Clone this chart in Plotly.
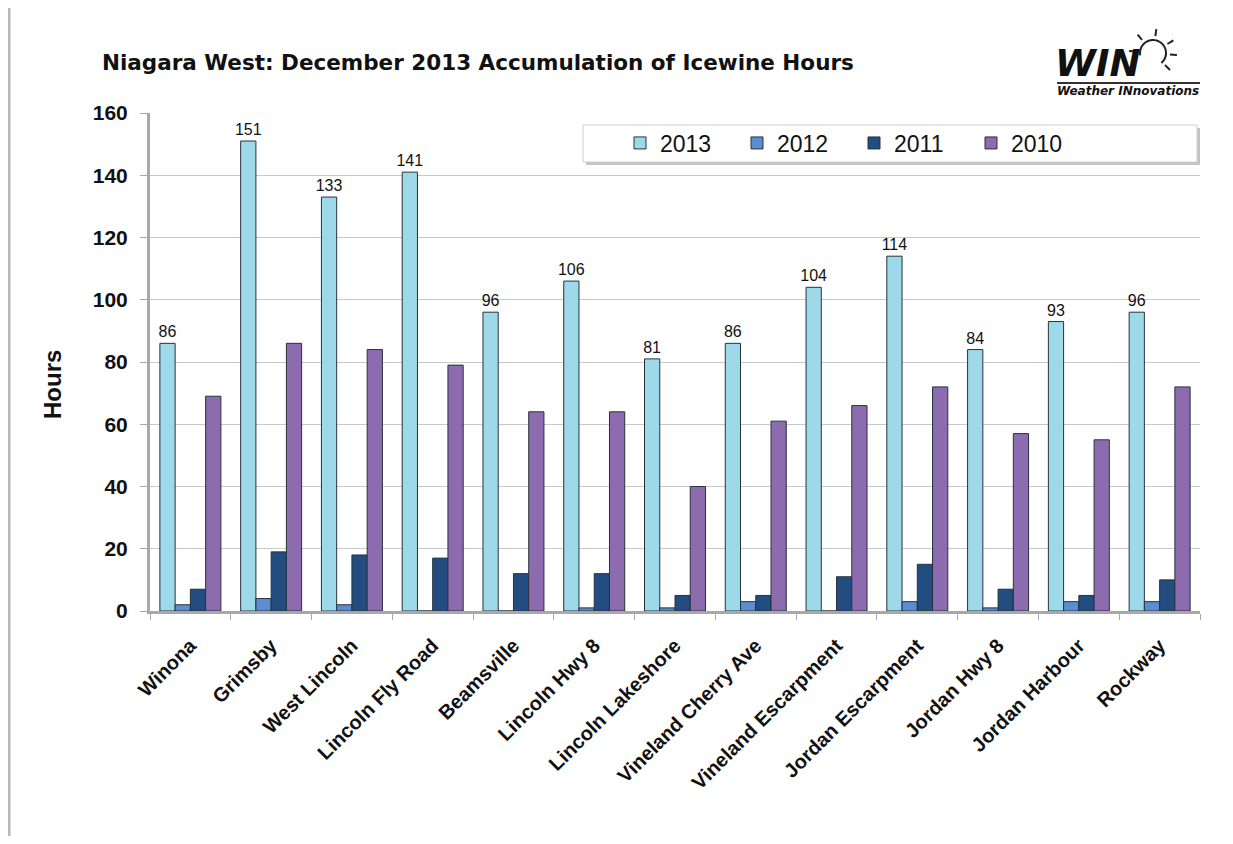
import math
import plotly.graph_objects as go

stations = ["Winona", "Grimsby", "West Lincoln", "Lincoln Fly Road", "Beamsville",
            "Lincoln Hwy 8", "Lincoln Lakeshore", "Vineland Cherry Ave",
            "Vineland Escarpment", "Jordan Escarpment", "Jordan Hwy 8",
            "Jordan Harbour", "Rockway"]
hours_2013 = [86, 151, 133, 141, 96, 106, 81, 86, 104, 114, 84, 93, 96]
hours_2012 = [2, 4, 2, 0, 0, 1, 1, 3, 0, 3, 1, 3, 3]
hours_2011 = [7, 19, 18, 17, 12, 12, 5, 5, 11, 15, 7, 5, 10]
hours_2010 = [69, 86, 84, 79, 64, 64, 40, 61, 66, 72, 57, 55, 72]
y_ticks = [0, 20, 40, 60, 80, 100, 120, 140, 160]

series = [
    ("2013", hours_2013, "#9dd9e9", True),
    ("2012", hours_2012, "#5b8ed0", False),
    ("2011", hours_2011, "#234c80", False),
    ("2010", hours_2010, "#8d6baf", False),
]

FONT = "Liberation Sans, Arial, sans-serif"
WIDE = "DejaVu Sans, sans-serif"

# plot area in page pixels (page has 8px body margin)
PX0, PX1, PY0, PY1 = 150, 1200, 113, 611
W, H = 1217, 828


def xp(x):
    return (x - PX0) / (PX1 - PX0)


def yp(y):
    return (PY1 - y) / (PY1 - PY0)


fig = go.Figure()
for name, vals, color, lab in series:
    fig.add_trace(go.Bar(
        name=name, x=stations, y=vals,
        marker=dict(color=color, line=dict(color="#26323c", width=1)),
        text=[str(v) for v in vals] if lab else None,
        textposition="outside" if lab else "none",
        textfont=dict(family=FONT, size=16, color="#111111"),
        constraintext="none",
        cliponaxis=False,
    ))

# sun for logo
cx, cy, r = 1153, 53, 13
arc = []
for i in range(0, 41):
    a = math.radians(190 - i * 6.0)
    arc.append((cx + r * math.cos(a), cy - r * math.sin(a)))
arc_path = "M " + " L ".join(f"{xp(x):.5f},{yp(y):.5f}" for x, y in arc)
shapes = [
    # page frame edge
    dict(type="line", xref="paper", yref="paper", x0=xp(9), x1=xp(9), y0=yp(0), y1=yp(844),
         line=dict(color="#b8b8b8", width=3)),
    # legend box shadow + box
    dict(type="rect", xref="paper", yref="paper", x0=xp(586), x1=xp(1200), y0=yp(128), y1=yp(165),
         line=dict(width=0), fillcolor="#c4c4c4", layer="below"),
    dict(type="rect", xref="paper", yref="paper", x0=xp(583), x1=xp(1197), y0=yp(125), y1=yp(162),
         line=dict(color="#d0d0d0", width=1), fillcolor="white", layer="below"),
    # logo underline
    dict(type="line", xref="paper", yref="paper", x0=xp(1057), x1=xp(1200), y0=yp(83), y1=yp(83),
         line=dict(color="#333333", width=2)),
    dict(type="path", xref="paper", yref="paper", path=arc_path,
         line=dict(color="#222222", width=2)),
]
for ang in [175, 130, 82, 32, -5, -45]:
    a = math.radians(ang)
    x0, y0 = cx + (r + 4) * math.cos(a), cy - (r + 4) * math.sin(a)
    x1, y1 = cx + (r + 11) * math.cos(a), cy - (r + 11) * math.sin(a)
    shapes.append(dict(type="line", xref="paper", yref="paper",
                       x0=xp(x0), x1=xp(x1), y0=yp(y0), y1=yp(y1),
                       line=dict(color="#222222", width=2)))

fig.update_layout(
    width=W, height=H,
    paper_bgcolor="white", plot_bgcolor="white",
    margin=dict(l=PX0 - 8, r=W + 8 - PX1, t=PY0 - 8, b=H + 8 - PY1),
    barmode="group", bargap=0.245, bargroupgap=0.0,
    font=dict(family=FONT, color="#111111"),
    showlegend=True,
    legend=dict(
        orientation="h", x=xp(620), xanchor="left", y=yp(143), yanchor="middle",
        font=dict(family=FONT, size=23, color="#111111"),
        bgcolor="rgba(0,0,0,0)", borderwidth=0,
        entrywidth=72, traceorder="normal",
    ),
    annotations=[
        dict(text="<b>Niagara West: December 2013 Accumulation of Icewine Hours</b>",
             xref="paper", yref="paper", x=xp(100), y=yp(62), xanchor="left", yanchor="middle",
             showarrow=False, font=dict(family=WIDE, size=21.5, color="#111111")),
        dict(text="<b>Hours</b>", xref="paper", yref="paper", x=xp(52), y=yp(385),
             textangle=-90, xanchor="center", yanchor="middle", showarrow=False,
             font=dict(family=FONT, size=24, color="#111111")),
        dict(text="<b><i>WIN</i></b>", xref="paper", yref="paper",
             x=xp(1053), y=yp(63), xanchor="left", yanchor="middle", showarrow=False,
             font=dict(family=WIDE, size=37, color="#111111")),
        dict(text="<b><i>Weather INnovations</i></b>", xref="paper", yref="paper",
             x=xp(1201), y=yp(91), xanchor="right", yanchor="middle", showarrow=False,
             font=dict(family=WIDE, size=12, color="#111111")),
    ],
    shapes=shapes,
)

fig.update_yaxes(
    range=[0, 160], showgrid=True, gridcolor="#c9c9c9", gridwidth=1,
    showline=True, linecolor="#a8a8a8", linewidth=3, ticks="outside", ticklen=7,
    tickcolor="#a8a8a8",
    tickvals=y_ticks, ticktext=[f"<b>{v}</b>" for v in y_ticks],
    tickfont=dict(family=FONT, size=21, color="#111111"),
    ticklabelstandoff=8,
    zeroline=False,
)
fig.update_xaxes(
    tickangle=-45, showline=True, linecolor="#a8a8a8", linewidth=3,
    ticks="outside", ticklen=6, tickcolor="#a8a8a8", tickson="boundaries",
    tickvals=stations, ticktext=[f"<b>{s}</b>" for s in stations],
    tickfont=dict(family=FONT, size=20, color="#111111"),
    ticklabelstandoff=12,
)

fig.write_html("out.html")
